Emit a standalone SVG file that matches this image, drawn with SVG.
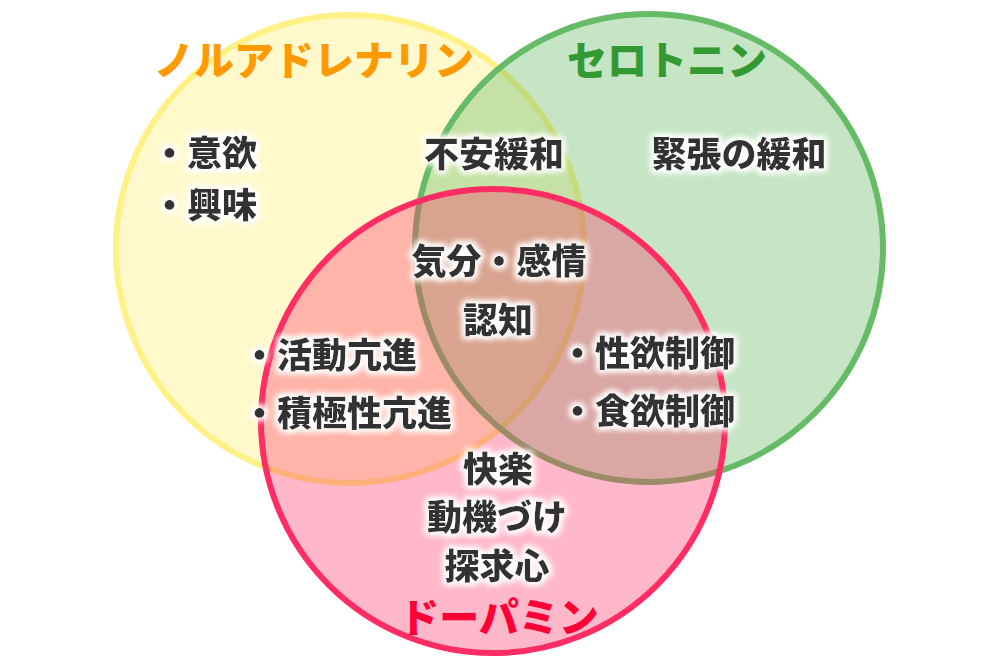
<svg xmlns="http://www.w3.org/2000/svg" width="1000" height="667" viewBox="0 0 1000 667">
<defs>
<style>
.c{stroke-width:6}
.t{font-family:"Noto Sans CJK JP","Noto Sans",sans-serif;font-weight:900;font-size:40px;text-anchor:middle}
.b{font-family:"Noto Sans CJK JP","Noto Sans",sans-serif;font-weight:900;font-size:35px;fill:#333333;filter:url(#glow)}
.m{text-anchor:middle}
</style>
<filter id="glow" x="-20%" y="-50%" width="140%" height="200%">
<feMorphology in="SourceAlpha" operator="dilate" radius="2" result="d"/>
<feGaussianBlur in="d" stdDeviation="3" result="bl"/>
<feFlood flood-color="#ffffff"/>
<feComposite in2="bl" operator="in" result="w"/>
<feMerge><feMergeNode in="w"/><feMergeNode in="w"/><feMergeNode in="SourceGraphic"/></feMerge>
</filter>
</defs>
<rect width="1000" height="667" fill="#ffffff"/>
<g id="circles">
<g id="noradrenaline-circle"><circle class="c" cx="350" cy="249" r="234" fill="#FFF185" fill-opacity="0.42" stroke="#FFF185"/></g>
<g id="serotonin-circle"><circle class="c" cx="649" cy="248" r="234" fill="#66BB66" fill-opacity="0.38" stroke="#66BB66"/></g>
<g id="dopamine-circle"><circle class="c" cx="493" cy="421" r="232" fill="#FF3366" fill-opacity="0.35" stroke="#FF2D64"/></g>
</g>
<g id="titles">
<text class="t" x="314" y="75" fill="#FF9A00">ノルアドレナリン</text>
<text class="t" x="667" y="75" fill="#339A33">セロトニン</text>
<text class="t" x="499" y="632" fill="#FF0036">ドーパミン</text>
</g>
<g id="labels">
<text class="b" x="152" y="166">・意欲</text>
<text class="b" x="152" y="218">・興味</text>
<text class="b m" x="494" y="167">不安緩和</text>
<text class="b m" x="739" y="167">緊張の緩和</text>
<text class="b m" x="499" y="274">気分・感情</text>
<text class="b m" x="498" y="333">認知</text>
<text class="b" x="242" y="368">・活動亢進</text>
<text class="b" x="242" y="426">・積極性亢進</text>
<text class="b" x="560" y="366">・性欲制御</text>
<text class="b" x="560" y="424">・食欲制御</text>
<text class="b m" x="498" y="482">快楽</text>
<text class="b m" x="497" y="530">動機づけ</text>
<text class="b m" x="497" y="579">探求心</text>
</g>
</svg>
